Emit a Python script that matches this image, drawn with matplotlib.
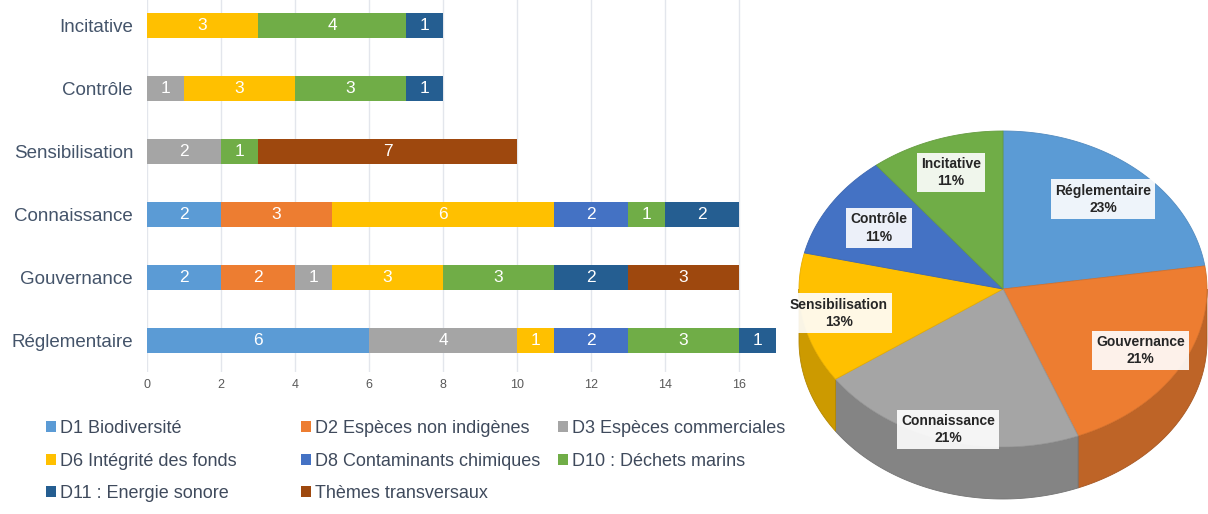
import numpy as np
import matplotlib
matplotlib.use("Agg")
import matplotlib.pyplot as plt
from matplotlib.patches import Patch, Polygon
from matplotlib import colors as mcolors

plt.rcParams['font.family'] = ['Liberation Sans', 'DejaVu Sans']

# Categories, bottom to top on the bar chart, clockwise from 12 o'clock on the pie
categories = ["Réglementaire", "Gouvernance", "Connaissance", "Sensibilisation", "Contrôle", "Incitative"]

series_names = ["D1 Biodiversité", "D2 Espèces non indigènes", "D3 Espèces commerciales",
                "D6 Intégrité des fonds", "D8 Contaminants chimiques", "D10 : Déchets marins",
                "D11 : Energie sonore", "Thèmes transversaux"]

d1 = [6, 2, 2, 0, 0, 0]
d2 = [0, 2, 3, 0, 0, 0]
d3 = [4, 1, 0, 2, 1, 0]
d6 = [1, 3, 6, 0, 3, 3]
d8 = [2, 0, 2, 0, 0, 0]
d10 = [3, 3, 1, 1, 3, 4]
d11 = [1, 2, 2, 0, 1, 1]
transversaux = [0, 3, 0, 7, 0, 0]

series_values = [d1, d2, d3, d6, d8, d10, d11, transversaux]
series_colors = ["#5B9BD5", "#ED7D31", "#A5A5A5", "#FFC000", "#4472C4", "#70AD47", "#255E91", "#9E480E"]

pie_colors = ["#5B9BD5", "#ED7D31", "#A5A5A5", "#FFC000", "#4472C4", "#70AD47"]

W, H = 1208, 514
fig = plt.figure(figsize=(W / 100, H / 100), dpi=100)

# ---------- stacked horizontal bars ----------
ax = fig.add_axes([147 / W, 1 - 372 / H, (776 - 147) / W, 372 / H])
y = np.arange(len(categories))
left = np.zeros(len(categories))
for vals, col in zip(series_values, series_colors):
    vals = np.array(vals, dtype=float)
    ax.barh(y, vals, left=left, height=0.39, color=col, zorder=3)
    for yi, (l, v) in enumerate(zip(left, vals)):
        if v > 0:
            ax.text(l + v / 2, yi, f"{int(v)}", ha="center", va="center",
                    color="white", fontsize=12.5, zorder=4)
    left += vals

ax.set_xlim(0, 17)
ax.set_ylim(-0.5, 5.4)
ax.set_xticks(np.arange(0, 17, 2))
ax.set_yticks(y)
ax.set_yticklabels(categories, fontsize=13.5, color="#44546A")
ax.tick_params(axis="y", length=0, pad=10)
ax.tick_params(axis="x", length=0, labelsize=9, labelcolor="#595959", pad=5)
ax.grid(axis="x", color="#E3E6EC", linewidth=1, zorder=0)
for s in ax.spines.values():
    s.set_visible(False)

# ---------- legend, three columns ----------
handles = [Patch(facecolor=c, edgecolor="none") for c in series_colors]
columns = [[0, 3, 6], [1, 4, 7], [2, 5]]
col_x = [46, 301, 558]
for idxs, xp in zip(columns, col_x):
    leg = fig.legend([handles[i] for i in idxs], [series_names[i] for i in idxs],
                     loc="upper left", bbox_to_anchor=(xp / W, 1 - 420 / H),
                     frameon=False, fontsize=13, handlelength=0.55, handleheight=0.55,
                     handletextpad=0.2, labelspacing=0.86, borderpad=0, borderaxespad=0)
    for t in leg.get_texts():
        t.set_color("#3F4A5C")

# ---------- 3D pie ----------
pax = fig.add_axes([790 / W, 0, (W - 790) / W, 1])
pax.set_xlim(790, W)
pax.set_ylim(H, 0)
pax.axis("off")

totals = np.sum(np.array(series_values), axis=0)
fractions = totals / totals.sum()
cx, cy, rx, ry, depth = 1003, 289, 204, 158, 52

def darker(c, f):
    r, g, b = mcolors.to_rgb(c)
    return (r * f, g * f, b * f)

bounds = np.concatenate([[0], np.cumsum(fractions)]) * 2 * np.pi

# side walls on the front half of the ellipse
for k in range(len(categories)):
    a0, a1 = bounds[k], bounds[k + 1]
    s0, s1 = max(a0, np.pi / 2), min(a1, 3 * np.pi / 2)
    if s1 <= s0:
        continue
    t = np.linspace(s0, s1, 80)
    xs = cx + rx * np.sin(t)
    ys = cy - ry * np.cos(t)
    pts = np.vstack([np.column_stack([xs, ys]),
                     np.column_stack([xs[::-1], ys[::-1] + depth])])
    pax.add_patch(Polygon(pts, closed=True, facecolor=darker(pie_colors[k], 0.8),
                          edgecolor=darker(pie_colors[k], 0.7), linewidth=0.6))

# top faces
for k in range(len(categories)):
    a0, a1 = bounds[k], bounds[k + 1]
    t = np.linspace(a0, a1, 120)
    pts = np.vstack([[cx, cy], np.column_stack([cx + rx * np.sin(t), cy - ry * np.cos(t)])])
    pax.add_patch(Polygon(pts, closed=True, facecolor=pie_colors[k],
                          edgecolor=darker(pie_colors[k], 0.9), linewidth=0.6))

# data labels
label_r = [0.75, 0.78, 0.93, 0.82, 0.72, 0.78]
for k, name in enumerate(categories):
    mid = (bounds[k] + bounds[k + 1]) / 2
    lx = cx + label_r[k] * rx * np.sin(mid)
    ly = cy - label_r[k] * ry * np.cos(mid)
    pax.text(lx, ly, f"{name}\n{fractions[k] * 100:.0f}%", ha="center", va="center",
             fontsize=10, fontweight="bold", color="#262626", linespacing=1.3,
             bbox=dict(boxstyle="square,pad=0.3", facecolor="white", alpha=0.9,
                       edgecolor="none"))

fig.savefig("out.png", dpi=100)
